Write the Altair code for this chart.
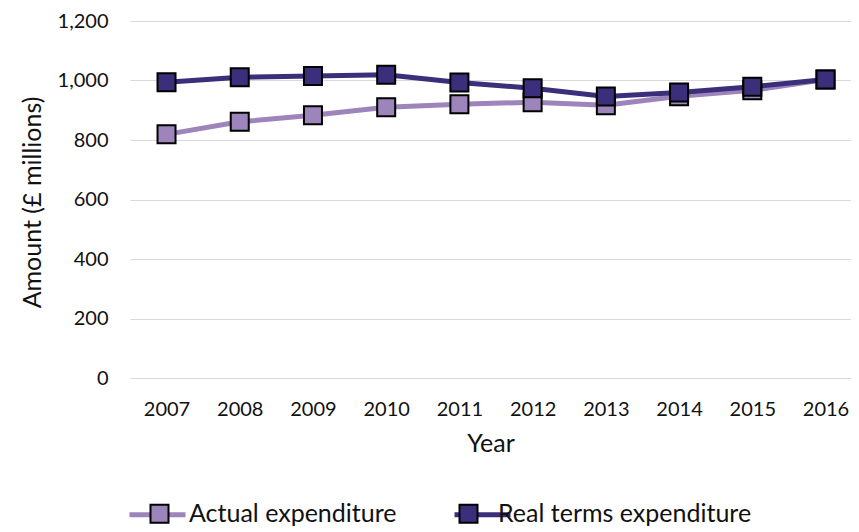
import altair as alt
import pandas as pd

years = ["2007", "2008", "2009", "2010", "2011", "2012", "2013", "2014", "2015", "2016"]
actual = [819, 861, 883, 910, 920, 927, 917, 947, 967, 1003]
real = [994, 1011, 1015, 1019, 993, 974, 946, 960, 979, 1003]
series_names = ["Actual expenditure", "Real terms expenditure"]
colors = ["#9d84bb", "#3b2e7a"]
y_ticks = [0, 200, 400, 600, 800, 1000, 1200]

df = pd.DataFrame({
    "Year": years * 2,
    "Amount": actual + real,
    "Series": [series_names[0]] * len(years) + [series_names[1]] * len(years),
})

FONT = "Lato"
FS = 20
TFS = 25
TXT = "#111"

x_enc = alt.X(
    "Year:O",
    title="Year",
    scale=alt.Scale(type="point", padding=0.4234, align=0.589),
    axis=alt.Axis(labelAngle=0, domain=False, ticks=False, grid=False,
                  labelPadding=21, labelFontSize=FS, labelFont=FONT, labelColor=TXT,
                  titleFontSize=TFS, titleFont=FONT, titleFontWeight="normal", titleColor=TXT,
                  titleY=65, titleBaseline="middle"),
)
y_enc = alt.Y(
    "Amount:Q",
    title="Amount (£ millions)",
    scale=alt.Scale(domain=[0, 1200], nice=False),
    axis=alt.Axis(values=y_ticks, format=",.0f", grid=True, gridColor="#d9d9d9", gridWidth=1,
                  domain=False, ticks=False, labelPadding=22, labelFontSize=FS, labelFont=FONT,
                  labelColor=TXT, titleFontSize=TFS, titleFont=FONT, titleFontWeight="normal",
                  titleColor=TXT, titleX=-98, titleY=181, titleAlign="center",
                  titleBaseline="middle"),
)

base = alt.Chart(df)

lines = base.mark_line(strokeWidth=5).encode(
    x=x_enc,
    y=y_enc,
    stroke=alt.Stroke(
        "Series:N",
        scale=alt.Scale(range=colors),
        legend=alt.Legend(orient="none", legendX=-3, legendY=463, direction="horizontal",
                          title=None, symbolType="stroke", symbolSize=3136, symbolStrokeWidth=5,
                          labelExpr="''", labelOffset=0, columnPadding=248,
                          labelFontSize=TFS, labelFont=FONT, padding=0, zindex=0),
    ),
)

points = base.mark_point(shape="square", filled=True, size=324, stroke="black",
                         strokeWidth=2, opacity=1).encode(
    x=x_enc,
    y=y_enc,
    fill=alt.Fill(
        "Series:N",
        scale=alt.Scale(domain=series_names, range=colors),
        legend=alt.Legend(orient="none", legendX=17, legendY=480, direction="horizontal",
                          title=None, symbolType="square", symbolSize=324,
                          symbolStrokeColor="black", symbolStrokeWidth=2, symbolOpacity=1,
                          labelOffset=17, columnPadding=58, labelLimit=400,
                          labelFontSize=TFS, labelFont=FONT, labelColor=TXT,
                          padding=0, zindex=1),
    ),
)

chart = alt.layer(lines, points).properties(
    width=721,
    height=357,
    autosize=alt.AutoSizeParams(type="none"),
    padding={"left": 122, "top": 13, "right": 0, "bottom": 154},
).configure(font=FONT).configure_view(stroke=None)

chart.save("out.html", embed_options={"renderer": "svg", "actions": False})
